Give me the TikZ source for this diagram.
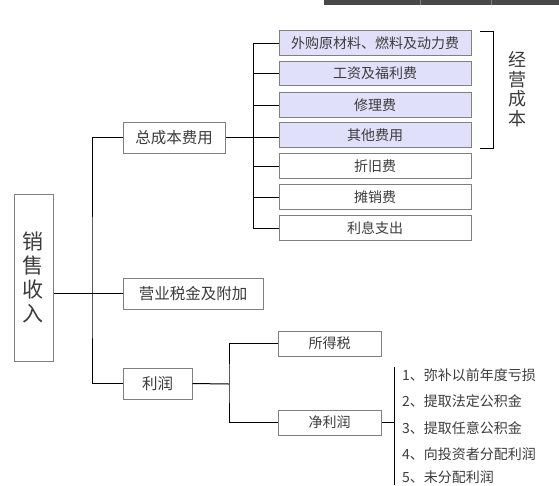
\documentclass[tikz,border=0pt]{standalone}
\usepackage{fontspec}
\setmainfont{Noto Sans CJK SC}
\usepackage{tikz}
\definecolor{boxline}{RGB}{128,128,128}
\definecolor{opfill}{RGB}{224,224,250}
\definecolor{txt}{RGB}{60,60,60}
\definecolor{barcol}{RGB}{72,72,72}

\begin{document}
\begin{tikzpicture}[x=1pt, y=-1pt,
    block/.style={rectangle, draw=boxline, line width=1pt, fill=white, text=txt, inner sep=0pt, minimum height=31pt, font=\fontsize{15.5}{18}\selectfont},
    item/.style={block, minimum width=192pt, minimum height=24.5pt, font=\fontsize{14}{16}\selectfont},
    opitem/.style={item, fill=opfill},
    sub/.style={block, minimum width=103pt, minimum height=25pt, font=\fontsize{14}{16}\selectfont},
    listitem/.style={anchor=west, inner sep=0pt, text=txt, font=\fontsize{14}{16}\selectfont},
    line/.style={draw, black, line width=1pt}]

    \useasboundingbox (0,0) rectangle (559,485);
    \fill [barcol] (324,0) rectangle (559,4.5);
    \draw [gray, line width=0.6pt] (420,0) -- (420,4.5) (491,0) -- (491,4.5);

    \node [block, minimum width=39pt, minimum height=167pt, align=center, font=\fontsize{21}{24}\selectfont] (sales) at (33.5,277.5) {销\\售\\收\\入};

    \node [block, minimum width=102pt] (cost) at (174,137.5) {总成本费用};
    \node [block, minimum width=140pt] (tax) at (193,293.5) {营业税金及附加};
    \node [block, minimum width=69pt] (profit) at (157.5,383.5) {利润};

    \node [opitem] (c1) at (375,43) {外购原材料、燃料及动力费};
    \node [opitem] (c2) at (375,73.5) {工资及福利费};
    \node [opitem] (c3) at (375,105) {修理费};
    \node [opitem] (c4) at (375,135) {其他费用};
    \node [item] (c5) at (375,166) {折旧费};
    \node [item] (c6) at (375,197) {摊销费};
    \node [item] (c7) at (375,228) {利息支出};

    \node [align=center, text=txt, inner sep=0pt, font=\fontsize{18}{19.5}\selectfont] (opcost) at (517,89) {经\\营\\成\\本};

    \node [sub] (incometax) at (329.5,343.5) {所得税};
    \node [sub] (net) at (329.5,422.5) {净利润};

    \node [listitem] (l1) at (402,375) {1、弥补以前年度亏损};
    \node [listitem] (l2) at (402,401.5) {2、提取法定公积金};
    \node [listitem] (l3) at (402,428) {3、提取任意公积金};
    \node [listitem] (l4) at (402,454) {4、向投资者分配利润};
    \node [listitem] (l5) at (402,477) {5、未分配利润};

    \coordinate (trunk) at (92,294);
    \coordinate (costfork) at (253,138);
    \coordinate (profitfork) at (229,384);
    \coordinate (listtop) at (394,367);
    \coordinate (listbot) at (394,485);
    \coordinate (brtop) at (480,31);
    \coordinate (brbot) at (480,148);

    \path [line] (sales.east |- tax.west) -- (tax.west);
    \path [line] (cost.west) -| (trunk) |- (profit.west);

    \path [line] (cost.east) -- (cost.east -| c4.west);
    \path [line] (costfork |- c1.west) -- (costfork |- c7.west);
    \foreach \c in {c1,c2,c3,c5,c6,c7}
        \path [line] (costfork |- \c.west) -- (\c.west);

    \path [line] (brtop) -- ++(13,0) |- (brbot);

    \path [line] (profit.east) -- (profitfork);
    \path [line] (incometax.west) -| (profitfork) |- (net.west);

    \path [line] (net.east) -- (net.east -| listtop);
    \path [line] (listtop) -- (listbot);
\end{tikzpicture}
\end{document}
